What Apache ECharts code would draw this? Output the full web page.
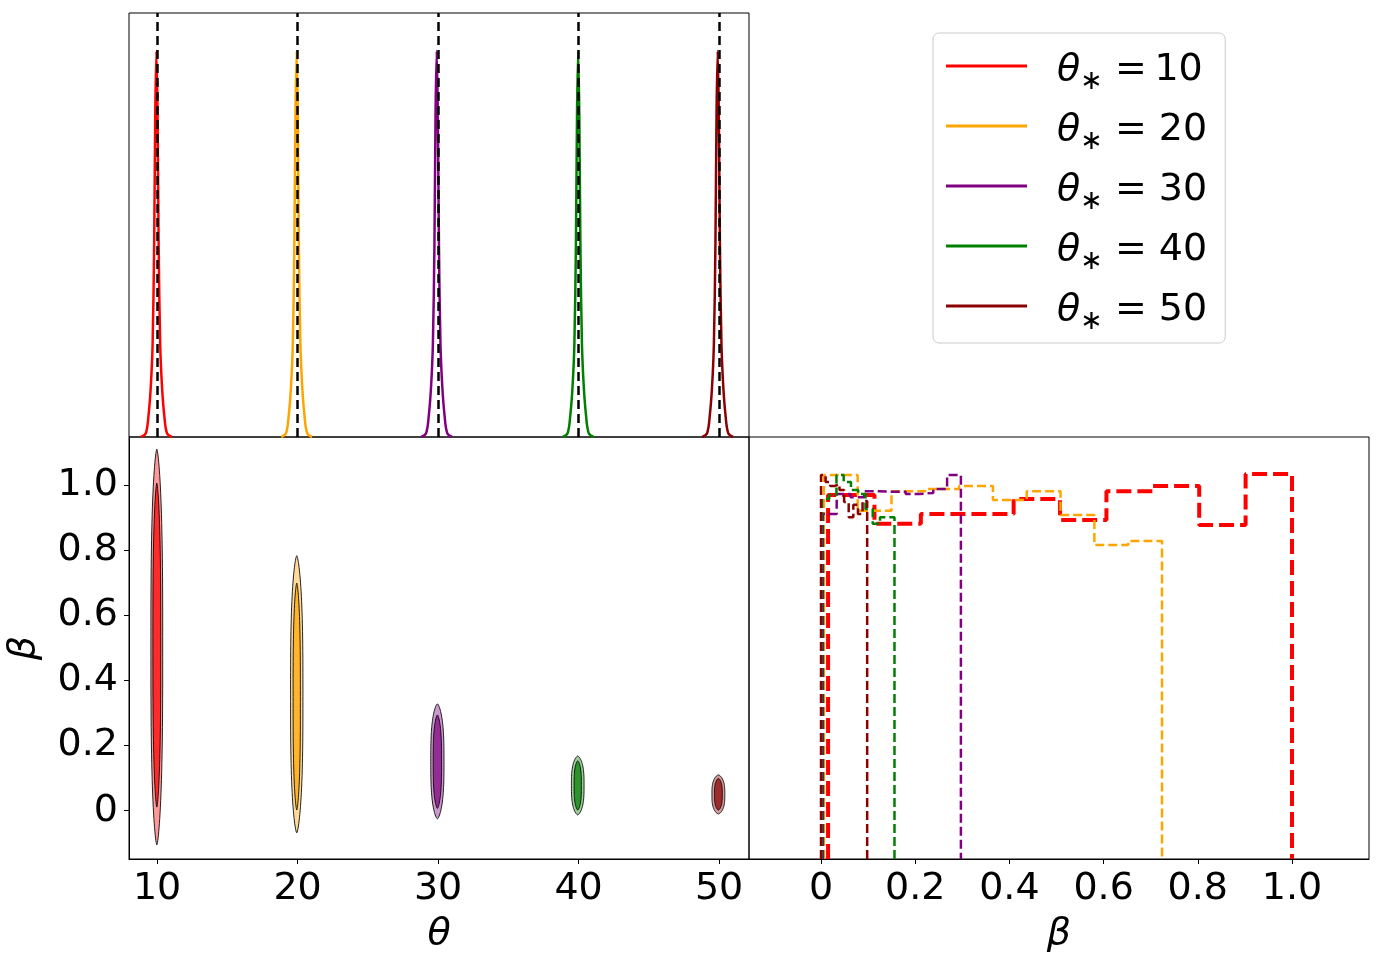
<!DOCTYPE html>
<html>
<head>
<meta charset="utf-8">
<title>theta / beta corner plot</title>
<script src="https://cdn.jsdelivr.net/npm/echarts@6/dist/echarts.min.js"></script>
<style>
  html, body { margin: 0; padding: 0; background: #fff; }
  #chart { width: 1379px; height: 965px; }
</style>
</head>
<body>
<div id="chart"></div>
<script>
// true values and colours
var truths = [10, 20, 30, 40, 50];
var colors = ['#ff0000', '#ffa500', '#800080', '#008000', '#8b0000'];
var legendNames = ['θ∗ =\u200910', 'θ∗ = 20', 'θ∗ = 30', 'θ∗ = 40', 'θ∗ = 50'];

// theta marginal (top panel): peak centres and the shared peak profile
var peakCenters = [9.95, 19.93, 29.9, 39.97, 49.9];
var peakOffsets = [-1.1, -0.75, -0.55, -0.4, -0.27, -0.16, -0.08, 0, 0.08, 0.16, 0.27, 0.4, 0.55, 0.75, 1.1];
var peakShape = [0, 0.01, 0.06, 0.13, 0.24, 0.5, 0.84, 1, 0.84, 0.5, 0.24, 0.13, 0.06, 0.01, 0];

// joint theta-beta contours (bottom-left panel)
var contourTheta = [9.98, 19.94, 29.95, 39.94, 49.95];
var outerLo = [-0.105, -0.068, -0.025, -0.013, -0.010];
var outerHi = [1.110, 0.783, 0.328, 0.168, 0.110];
var outerHalfWidth = [0.42, 0.44, 0.47, 0.45, 0.46];
var innerLo = [0.011, 0.002, 0.007, 0.002, 0.002];
var innerHi = [1.006, 0.699, 0.294, 0.153, 0.099];
var innerHalfWidth = [0.28, 0.26, 0.30, 0.26, 0.28];

// beta marginal histograms (bottom-right panel), 10 bins each
var histLo = [0.015, 0.006, 0.004, 0.002, 0.0];
var histHi = [1.0, 0.724, 0.297, 0.156, 0.098];
var histRed = [1.035, 0.953, 0.981, 0.981, 1.024, 0.964, 1.046, 1.061, 0.950, 1.095];
var histOrange = [1.092, 0.990, 1.046, 1.052, 1.061, 1.021, 1.046, 0.978, 0.893, 0.904];
var histPurple = [0.981, 1.038, 1.029, 1.046, 1.044, 1.044, 1.038, 1.041, 1.052, 1.092];
var histGreen = [1.024, 1.035, 1.092, 1.072, 1.049, 1.038, 0.995, 0.953, 0.972, 0.972];
var histDarkred = [1.092, 1.072, 1.061, 1.066, 1.049, 1.015, 0.972, 1.007, 0.981, 1.018];
var histHeights = [histRed, histOrange, histPurple, histGreen, histDarkred];

// tick labels
var thetaTicks = [10, 20, 30, 40, 50];
var betaTicks = [0, 0.2, 0.4, 0.6, 0.8, 1.0];

var FONT = 'DejaVu Sans';
var FS = 38;

function rgba(hex, a) {
    var n = parseInt(hex.slice(1), 16);
    return 'rgba(' + (n >> 16) + ',' + ((n >> 8) & 255) + ',' + (n & 255) + ',' + a + ')';
}
function betaLabel(v) {
    return v === 0 ? '0' : v.toFixed(1);
}

var myChart = echarts.init(document.getElementById('chart'));
var series = [];

// top panel: theta marginals
for (var i = 0; i < truths.length; i++) {
    var pts = [];
    for (var k = 0; k < peakOffsets.length; k++) {
        pts.push([peakCenters[i] + peakOffsets[k], peakShape[k]]);
    }
    series.push({
        name: legendNames[i],
        type: 'line',
        xAxisIndex: 0,
        yAxisIndex: 0,
        data: pts,
        smooth: 0.35,
        showSymbol: false,
        color: colors[i],
        lineStyle: { width: 2.5, color: colors[i] },
        z: 2
    });
}
// truth lines
series.push({
    type: 'line',
    xAxisIndex: 0,
    yAxisIndex: 0,
    data: [],
    silent: true,
    z: 3,
    markLine: {
        silent: true,
        symbol: ['none', 'none'],
        label: { show: false },
        lineStyle: { color: '#000', width: 2.5, type: [9, 5] },
        data: truths.map(function (t) { return { xAxis: t }; })
    }
});

// bottom-left: contours, outer then inner for each theta
var contourData = [];
for (var i = 0; i < contourTheta.length; i++) {
    contourData.push([contourTheta[i], outerLo[i], outerHi[i], outerHalfWidth[i], 0, i]);
    contourData.push([contourTheta[i], innerLo[i], innerHi[i], innerHalfWidth[i], 1, i]);
}
series.push({
    type: 'custom',
    xAxisIndex: 1,
    yAxisIndex: 1,
    clip: true,
    silent: true,
    data: contourData,
    encode: { x: 0, y: [1, 2] },
    renderItem: function (params, api) {
        var cx = api.value(0), lo = api.value(1), hi = api.value(2);
        var hw = api.value(3), level = api.value(4), ci = api.value(5);
        var mid = (lo + hi) / 2, hh = (hi - lo) / 2;
        // stadium-like outline with tapered ends
        var right = [], left = [];
        var N = 60;
        for (var k = 0; k <= N; k++) {
            var t = Math.cos(Math.PI * k / N);
            var wx = hw * Math.pow(1 - Math.pow(Math.abs(t), 3), 1 / 1.5);
            right.push(api.coord([cx + wx, mid + hh * t]));
            left.push(api.coord([cx - wx, mid + hh * t]));
        }
        var points = right.concat(left.reverse());
        return {
            type: 'polygon',
            shape: { points: points },
            style: {
                fill: rgba(colors[ci], level === 0 ? 0.4 : 0.72),
                stroke: 'rgba(0,0,0,0.85)',
                lineWidth: 1
            }
        };
    }
});

// bottom-right: beta step histograms
for (var i = 0; i < truths.length; i++) {
    var h = histHeights[i];
    var w = (histHi[i] - histLo[i]) / h.length;
    var pts = [[histLo[i], 0]];
    for (var k = 0; k < h.length; k++) {
        pts.push([histLo[i] + k * w, h[k]]);
        pts.push([histLo[i] + (k + 1) * w, h[k]]);
    }
    pts.push([histHi[i], 0]);
    series.push({
        type: 'line',
        xAxisIndex: 2,
        yAxisIndex: 2,
        data: pts,
        showSymbol: false,
        silent: true,
        lineStyle: {
            color: colors[i],
            width: i === 0 ? 4 : 2.5,
            type: i === 0 ? [15, 6] : [9, 4]
        },
        z: 2 + i
    });
}

var frame = { show: true, borderColor: '#000', borderWidth: 1, backgroundColor: 'transparent' };
var hiddenAxisBits = {
    axisLine: { show: false, onZero: false },
    axisTick: { show: false },
    axisLabel: { show: false },
    splitLine: { show: false }
};
var nameStyle = { fontFamily: FONT, fontStyle: 'italic', fontSize: FS, color: '#000' };
var labelStyle = { fontFamily: FONT, fontSize: FS, color: '#000' };

var option = {
    animation: false,
    backgroundColor: '#fff',
    grid: [
        Object.assign({ left: 129, top: 13, width: 620, height: 424 }, frame),
        Object.assign({ left: 129, top: 437, width: 620, height: 422 }, frame),
        Object.assign({ left: 749, top: 437, width: 620, height: 422 }, frame)
    ],
    xAxis: [
        Object.assign({ type: 'value', gridIndex: 0, min: 8, max: 52.13 }, hiddenAxisBits),
        {
            type: 'value', gridIndex: 1, min: 8, max: 52.13,
            axisLine: { show: true, onZero: false, lineStyle: { color: '#000', width: 1 } },
            axisTick: { show: true, length: 5, customValues: thetaTicks, lineStyle: { color: '#000', width: 1 } },
            axisLabel: Object.assign({ customValues: thetaTicks, margin: 11 }, labelStyle),
            splitLine: { show: false },
            name: 'θ', nameLocation: 'middle', nameGap: 56, nameTextStyle: nameStyle
        },
        {
            type: 'value', gridIndex: 2, min: -0.1529, max: 1.1635,
            axisLine: { show: true, onZero: false, lineStyle: { color: '#000', width: 1 } },
            axisTick: { show: true, length: 5, customValues: betaTicks, lineStyle: { color: '#000', width: 1 } },
            axisLabel: Object.assign({ customValues: betaTicks, margin: 11, formatter: betaLabel }, labelStyle),
            splitLine: { show: false },
            name: 'β', nameLocation: 'middle', nameGap: 56, nameTextStyle: nameStyle
        }
    ],
    yAxis: [
        Object.assign({ type: 'value', gridIndex: 0, min: 0, max: 1.098 }, hiddenAxisBits),
        {
            type: 'value', gridIndex: 1, min: -0.1483, max: 1.1474,
            axisLine: { show: true, onZero: false, lineStyle: { color: '#000', width: 1 } },
            axisTick: { show: true, length: 5, customValues: betaTicks, lineStyle: { color: '#000', width: 1 } },
            axisLabel: Object.assign({ customValues: betaTicks, margin: 11, formatter: betaLabel }, labelStyle),
            splitLine: { show: false },
            name: 'β', nameLocation: 'middle', nameGap: 86, nameRotate: 90, nameTextStyle: nameStyle
        },
        Object.assign({ type: 'value', gridIndex: 2, min: 0, max: 1.2 }, hiddenAxisBits)
    ],
    legend: {
        data: legendNames,
        orient: 'vertical',
        left: 933,
        top: 33,
        padding: [4, 18, 8, 13],
        itemGap: 2,
        itemWidth: 81,
        itemHeight: 3,
        icon: 'rect',
        backgroundColor: '#fff',
        borderColor: '#cccccc',
        borderWidth: 1,
        borderRadius: 6,
        selectedMode: false,
        formatter: function (name) {
            var rest = name.split('∗')[1];
            return '{t|θ}{s|∗}{e|' + rest + '}';
        },
        textStyle: {
            fontFamily: FONT,
            fontSize: FS,
            lineHeight: 50,
            color: '#000',
            padding: [8, 0, 0, 25],
            rich: {
                t: { fontFamily: FONT, fontStyle: 'italic', fontSize: FS, lineHeight: 50, color: '#000' },
                s: { fontFamily: FONT, fontSize: 27, lineHeight: 26, verticalAlign: 'bottom', color: '#000' },
                e: { fontFamily: FONT, fontSize: FS, lineHeight: 50, color: '#000' }
            }
        }
    },
    series: series
};

myChart.setOption(option);
window.onresize = function () {
    myChart.resize();
};
</script>
</body>
</html>
